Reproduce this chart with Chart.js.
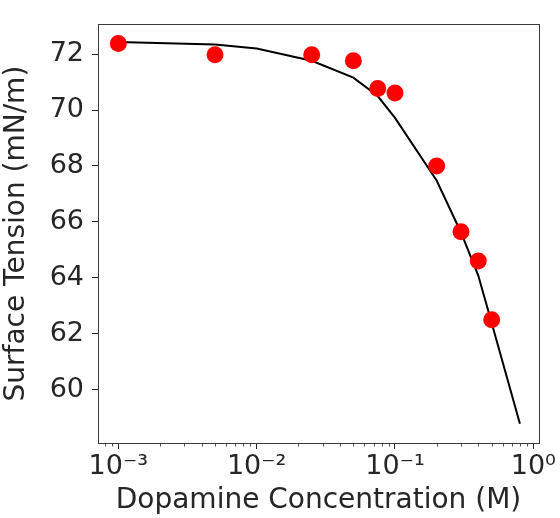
<!DOCTYPE html>
<html>
<head>
<meta charset="utf-8">
<script src="https://cdn.jsdelivr.net/npm/chart.js@4/dist/chart.umd.min.js"></script>
<style>
  html, body { margin: 0; padding: 0; background: #fff; }
  #wrap { width: 560px; height: 518px; position: relative; }
</style>
</head>
<body>
<div id="wrap"><canvas id="c" width="560" height="518"></canvas></div>
<script>
const concentrations = [0.001, 0.005, 0.025, 0.05, 0.075, 0.1, 0.2, 0.3, 0.4, 0.5];
const tensions = [72.38, 71.98, 71.98, 71.76, 70.77, 70.61, 68.0, 65.65, 64.6, 62.5];

// Fitted curve
const fitConcentrations = [0.001, 0.005, 0.01, 0.025, 0.05, 0.075, 0.1, 0.2, 0.3, 0.4, 0.5, 0.8];
const fitTensions = [72.43, 72.34, 72.2, 71.76, 71.16, 70.5, 69.72, 67.48, 65.62, 64.08, 62.38, 58.78];

// Tick labels
const xMajorTicks = [0.001, 0.01, 0.1, 1];
const xTickLabels = ['10\u207B\u00B3', '10\u207B\u00B2', '10\u207B\u00B9', '10\u2070'];
const yTicks = [60, 62, 64, 66, 68, 70, 72];

const FONT = "'DejaVu Sans', sans-serif";
const TICK_COLOR = '#262626';

const scatterData = concentrations.map((c, i) => ({ x: c, y: tensions[i] }));
const fitData = fitConcentrations.map((c, i) => ({ x: c, y: fitTensions[i] }));

const framePlugin = {
  id: 'frame',
  afterDraw(chart) {
    const { ctx, chartArea: a } = chart;
    const xs = chart.scales.x;
    ctx.save();
    // minor ticks on log x axis
    ctx.strokeStyle = TICK_COLOR;
    ctx.lineWidth = 0.8;
    for (let d = -4; d <= 0; d++) {
      for (let m = 2; m <= 9; m++) {
        const v = m * Math.pow(10, d);
        if (v < xs.min || v > xs.max) continue;
        const px = Math.round(xs.getPixelForValue(v)) + 0.5;
        ctx.beginPath();
        ctx.moveTo(px, a.bottom);
        ctx.lineTo(px, a.bottom + 3.5);
        ctx.stroke();
      }
    }
    // frame
    ctx.strokeStyle = '#3a3a3a';
    ctx.lineWidth = 1;
    ctx.strokeRect(Math.round(a.left) + 0.5, Math.round(a.top) + 0.5,
                   Math.round(a.right - a.left), Math.round(a.bottom - a.top));
    ctx.restore();
  }
};

new Chart(document.getElementById('c'), {
  type: 'scatter',
  data: {
    datasets: [
      {
        label: 'fit',
        data: fitData,
        showLine: true,
        borderColor: '#000000',
        borderWidth: 2,
        pointRadius: 0,
        tension: 0,
        order: 2
      },
      {
        label: 'data',
        data: scatterData,
        backgroundColor: '#ff0000',
        borderColor: '#ff0000',
        borderWidth: 0,
        pointRadius: 8.5,
        order: 1
      }
    ]
  },
  options: {
    responsive: false,
    animation: false,
    devicePixelRatio: 1,
    layout: { padding: { left: 0, right: 21, top: 13, bottom: 0 } },
    plugins: { legend: { display: false }, tooltip: { enabled: false } },
    scales: {
      x: {
        type: 'logarithmic',
        min: 7.13e-4,
        max: 1.099,
        afterBuildTicks(scale) {
          scale.ticks = xMajorTicks.map(v => ({ value: v, major: true }));
        },
        afterFit(scale) { scale.height = 75; },
        ticks: {
          autoSkip: false,
          maxRotation: 0,
          color: TICK_COLOR,
          font: { family: FONT, size: 27 },
          padding: 2,
          callback(value) {
            const i = xMajorTicks.findIndex(t => Math.abs(Math.log10(t) - Math.log10(value)) < 1e-6);
            return i >= 0 ? xTickLabels[i] : '';
          }
        },
        grid: {
          drawOnChartArea: false,
          drawTicks: true,
          tickLength: 6,
          tickColor: TICK_COLOR,
          tickWidth: 1
        },
        border: { display: false },
        title: {
          display: true,
          text: 'Dopamine Concentration (M)',
          color: TICK_COLOR,
          font: { family: FONT, size: 28 },
          padding: { top: 0, bottom: 0 }
        }
      },
      y: {
        type: 'linear',
        min: 58.09,
        max: 73.07,
        afterBuildTicks(scale) {
          scale.ticks = yTicks.map(v => ({ value: v }));
        },
        afterFit(scale) { scale.width = 98; },
        ticks: {
          color: TICK_COLOR,
          font: { family: FONT, size: 27 },
          padding: 8
        },
        grid: {
          drawOnChartArea: false,
          drawTicks: true,
          tickLength: 6,
          tickColor: TICK_COLOR,
          tickWidth: 1
        },
        border: { display: false },
        title: {
          display: true,
          text: 'Surface Tension (mN/m)',
          color: TICK_COLOR,
          font: { family: FONT, size: 28 },
          padding: { top: 0, bottom: 0 }
        }
      }
    }
  },
  plugins: [framePlugin]
});
</script>
</body>
</html>
